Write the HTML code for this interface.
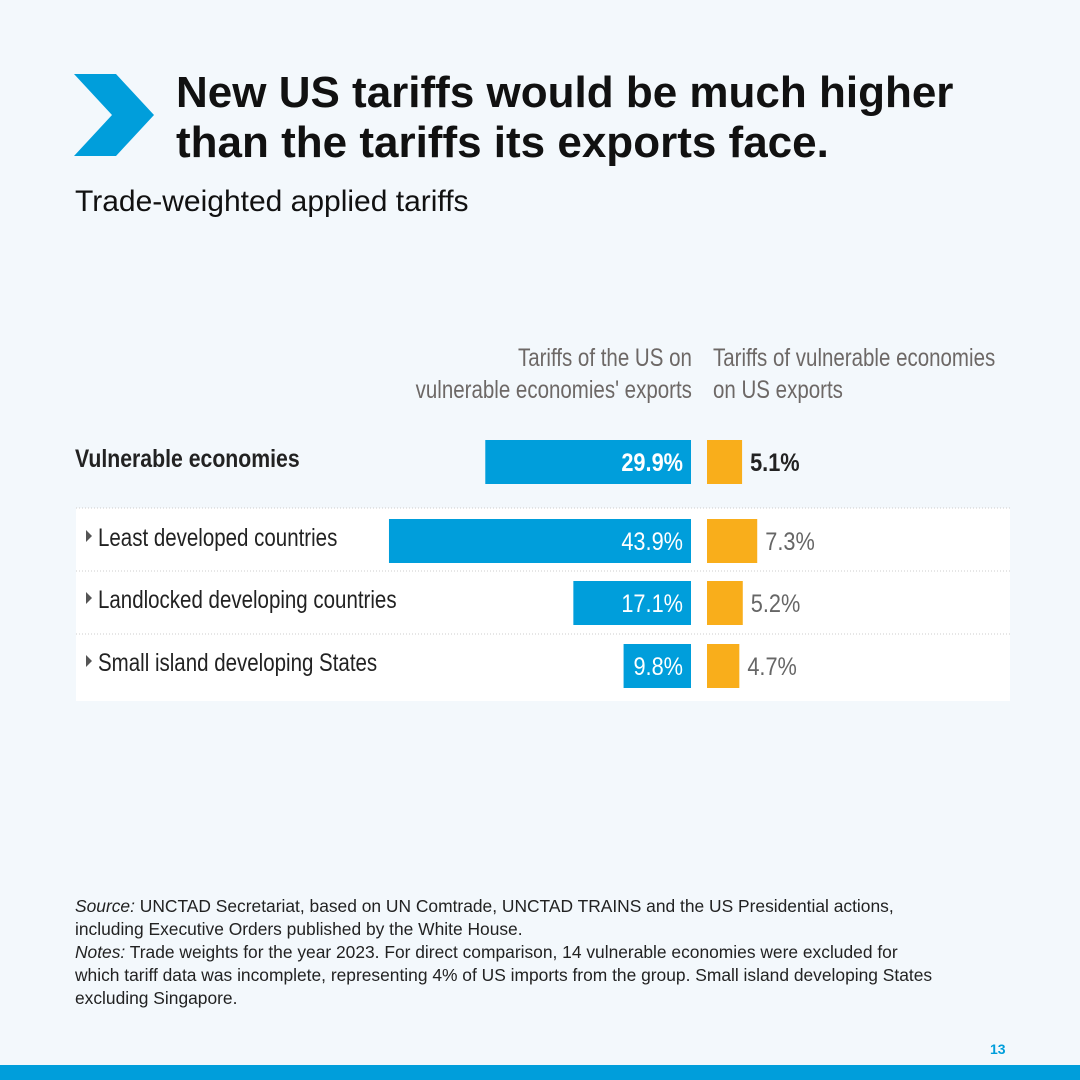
<!DOCTYPE html>
<html><head><meta charset="utf-8"><style>
body{margin:0;width:1080px;height:1080px;background:#f3f8fc;position:relative;overflow:hidden;font-family:"Liberation Sans",sans-serif;color:#111}
.abs{position:absolute}
#title{left:176px;top:68px;font-size:44px;font-weight:bold;line-height:50px;letter-spacing:0px;white-space:nowrap}
#sub{left:75px;top:185px;font-size:30px;white-space:nowrap}
.colh{font-size:25px;color:#6d6866;line-height:32px;white-space:nowrap}
.foot{left:75px;top:895px;font-size:17.4px;line-height:23px;color:#222;width:866px}
</style></head><body>
<svg class="abs" style="left:74px;top:74px" width="82" height="82"><polygon points="0,0 42,0 80,41 42,82 0,82 38,41" fill="#009edb"/></svg>
<div id="title" class="abs">New US tariffs would be much higher<br>than the tariffs its exports face.</div>
<div id="sub" class="abs">Trade-weighted applied tariffs</div>
<div class="abs colh" style="right:388px;top:342px;text-align:right;transform:scaleX(0.82);transform-origin:100% 0">Tariffs of the US on<br>vulnerable economies' exports</div>
<div class="abs colh" style="left:713px;top:342px;transform:scaleX(0.82);transform-origin:0 0">Tariffs of vulnerable economies<br>on US exports</div>
<div class="abs" style="left:76px;top:508px;width:934px;height:193px;background:#fff"></div>
<svg id="chart" class="abs" style="left:0;top:0" width="1080" height="1080"></svg>
<div class="abs foot"><i>Source:</i> UNCTAD Secretariat, based on UN Comtrade, UNCTAD TRAINS and the US Presidential actions, including Executive Orders published by the White House.<br><i>Notes:</i> Trade weights for the year 2023. For direct comparison, 14 vulnerable economies were excluded for which tariff data was incomplete, representing 4% of US imports from the group. Small island developing States excluding Singapore.</div>
<div class="abs" style="left:990px;top:1041px;font-size:14px;font-weight:bold;color:#009edb">13</div>
<div class="abs" style="left:0;top:1065px;width:1080px;height:15px;background:#009edb"></div>
<script>
const categories=["Vulnerable economies","Least developed countries","Landlocked developing countries","Small island developing States"];
const usTariffs=[29.9,43.9,17.1,9.8];
const veTariffs=[5.1,7.3,5.2,4.7];
const svg=document.getElementById('chart');
const NS='http://www.w3.org/2000/svg';
const zero=691, zero2=707, k=6.88;
const rowTop=[440,519,581,644], h=44;
function xs(v){return v*k;}
function mk(t,a,p){const e=document.createElementNS(NS,t);for(const key in a)e.setAttribute(key,a[key]);(p||svg).appendChild(e);return e;}
function txt(x,y,sx,str,attrs){const g=mk('g',{transform:`translate(${x},${y}) scale(${sx},1)`});const t=mk('text',Object.assign({x:0,y:0,'font-size':25},attrs),g);t.textContent=str;return t;}
[508,571,634].forEach(y=>{const l=mk('line',{x1:76,x2:1010,y1:y,y2:y,stroke:'#ccc','stroke-dasharray':'1,2'});

});
categories.forEach((c,i)=>{
 const y=rowTop[i], bold=i===0;
 const w=xs(usTariffs[i]);
 const b=mk('rect',{x:zero-w,y:y,width:w,height:h,fill:'#009edb'});
 
 
 const t=txt(zero-8,y+31,0.87,usTariffs[i].toFixed(1)+'%',{'text-anchor':'end',fill:'#fff','font-weight':bold?'bold':'normal'});
 
 
 const w2=xs(veTariffs[i]);
 const o=mk('rect',{x:zero2,y:y,width:w2,height:h,fill:'#f9ae1b'});
 
 
 const t2=txt(zero2+w2+8,y+31,0.87,veTariffs[i].toFixed(1)+'%',{fill:bold?'#222':'#666','font-weight':bold?'bold':'normal'});
 
 
 const cx=bold?75:98;
 const cl=txt(cx,y+27,bold?0.85:0.82,c,{fill:'#222','font-weight':bold?'bold':'normal'});
 
 
 if(!bold){const tri=mk('polygon',{points:`86,${y+11} 92,${y+17} 86,${y+23}`,fill:'#555'});
 
 }
});
</script>
</body></html>
